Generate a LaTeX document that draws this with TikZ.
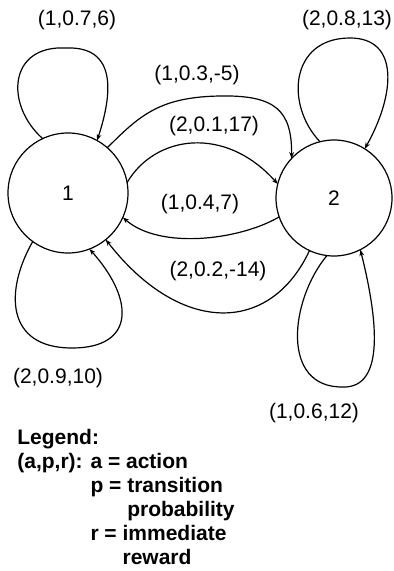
\documentclass[tikz,border=0pt]{standalone}
\usepackage{fontspec}
\setmainfont{Liberation Sans}
\usetikzlibrary{arrows.meta}
\begin{document}
\begin{tikzpicture}[x=0.5pt,y=-0.5pt,
  state/.style={draw, circle, inner sep=0pt, outer sep=0pt, line width=0.6pt},
  lbl/.style={inner sep=0pt},
  conn/.style={line width=0.6pt, -{Stealth[length=3.2pt,width=2.4pt]}},
  every node/.append style={font=\fontsize{10.5}{12}\selectfont}]
\useasboundingbox (0,0) rectangle (393,571);
\node[state, minimum size=60pt] (n1) at (68,193) {1};
\node[state, minimum size=58pt] (n2) at (334,198) {2};
% self loops
\draw[conn] (n1.115) .. controls (5,105) and (8,45) .. (66,48) .. controls (118,46) and (112,95) .. (n1.61);
\draw[conn] (n2.104) .. controls (285,105) and (290,38) .. (350,38) .. controls (400,38) and (395,95) .. (n2.58);
\draw[conn] (n1.234) .. controls (5,290) and (5,348) .. (72,348) .. controls (135,348) and (135,300) .. (n1.-69);
\draw[conn] (n2.263) .. controls (290,300) and (280,388) .. (343,387) .. controls (385,388) and (378,320) .. (n2.297);
% transitions
\draw[conn] (n1.49) .. controls (140,115) and (160,97) .. (220,96) .. controls (275,95) and (292,110) .. (n2.137);
\draw[conn] (n1.10) .. controls (155,135) and (225,125) .. (n2.166);
\draw[conn] (n2.199) .. controls (240,240) and (160,250) .. (n1.-24);
\draw[conn] (n2.245) .. controls (270,335) and (180,335) .. (n1.-51);
% labels
\node[lbl] (l1) at (77,20) {(1,0.7,6)};
\node[lbl] (l2) at (347,20) {(2,0.8,13)};
\node[lbl] (l3) at (197,75) {(1,0.3,-5)};
\node[lbl] (l4) at (214,126) {(2,0.1,17)};
\node[lbl] (l5) at (200,204) {(1,0.4,7)};
\node[lbl] (l6) at (218,271) {(2,0.2,-14)};
\node[lbl] (l7) at (58,378) {(2,0.9,10)};
\node[lbl] (l8) at (314,413) {(1,0.6,12)};
% legend
\node[lbl, anchor=base west, align=left] (legend) at (17,444) {\bfseries
\begin{tabular}[t]{@{}l@{ }l@{}}
\multicolumn{2}{@{}l@{}}{Legend:}\\
(a,p,r): & a = action\\
 & p = transition\\
 & \phantom{p = }probability\\
 & r = immediate\\
 & \phantom{r = }reward
\end{tabular}};
\end{tikzpicture}
\end{document}
